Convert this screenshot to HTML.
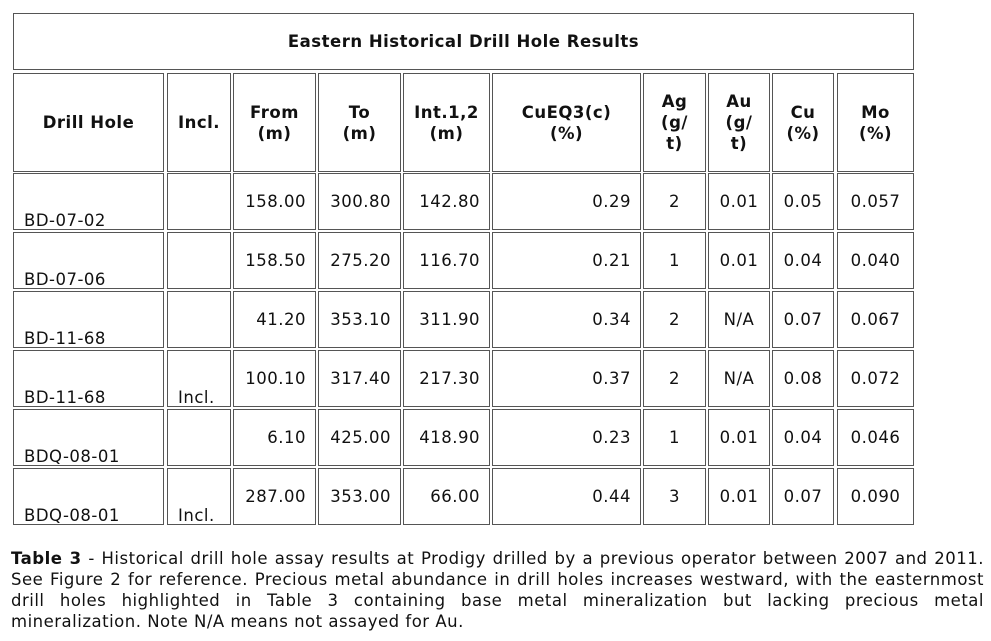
<!DOCTYPE html>
<html><head><meta charset="utf-8"><style>
body{margin:0;width:991px;height:641px;background:#fff;font-family:"DejaVu Sans","Liberation Sans",sans-serif;color:#111;position:relative;overflow:hidden;letter-spacing:0.5px}
.c{position:absolute;border:1px solid #555;box-sizing:border-box;font-size:16.5px}
.h{font-weight:bold;display:flex;align-items:center;justify-content:center;text-align:center;line-height:21px}
.n{display:flex;align-items:center;justify-content:flex-end;padding-right:9px}
.m{display:flex;align-items:center;justify-content:center}
.b{display:flex;align-items:flex-end;padding-left:10px;padding-bottom:0;line-height:17px}
.cap{position:absolute;left:11px;top:548px;width:973px;font-size:16.5px;line-height:21px}
.cap div{text-align:justify;text-align-last:justify;white-space:nowrap}
.cap div.l{text-align-last:left}
</style></head><body>
<div class="c h" style="left:13px;top:13px;width:901px;height:57px">Eastern Historical Drill Hole Results</div>
<div id="t"></div>
<div class="cap">
<div><b>Table 3</b> - Historical drill hole assay results at Prodigy drilled by a previous operator between 2007 and 2011.</div>
<div>See Figure 2 for reference. Precious metal abundance in drill holes increases westward, with the easternmost</div>
<div>drill holes highlighted in Table 3 containing base metal mineralization but lacking precious metal</div>
<div class="l">mineralization. Note N/A means not assayed for Au.</div>
</div>
<script>
var cols=[[13,164],[167,231],[233,316],[318,401],[403,490],[492,641],[643,706],[708,770],[772,834],[837,914]];
var hd=["Drill Hole","Incl.","From<br>(m)","To<br>(m)","Int.1,2<br>(m)","CuEQ3(c)<br>(%)","Ag<br>(g/<br>t)","Au<br>(g/<br>t)","Cu<br>(%)","Mo<br>(%)"];
var rows=[["BD-07-02","","158.00","300.80","142.80","0.29","2","0.01","0.05","0.057"],
["BD-07-06","","158.50","275.20","116.70","0.21","1","0.01","0.04","0.040"],
["BD-11-68","","41.20","353.10","311.90","0.34","2","N/A","0.07","0.067"],
["BD-11-68","Incl.","100.10","317.40","217.30","0.37","2","N/A","0.08","0.072"],
["BDQ-08-01","","6.10","425.00","418.90","0.23","1","0.01","0.04","0.046"],
["BDQ-08-01","Incl.","287.00","353.00","66.00","0.44","3","0.01","0.07","0.090"]];
var s="";
function cell(cls,x,y,w,h,t){s+='<div class="c '+cls+'" style="left:'+x+'px;top:'+y+'px;width:'+w+'px;height:'+h+'px">'+t+'</div>';}
cols.forEach(function(c,i){cell("h",c[0],73,c[1]-c[0],99,hd[i]);});
rows.forEach(function(r,j){var y=173+j*59;cols.forEach(function(c,i){
var cls=(i<2)?"b":(i<6?"n":"m");cell(cls,c[0],y,c[1]-c[0],57,r[i]);});});
document.getElementById("t").innerHTML=s;
</script>
</body></html>
